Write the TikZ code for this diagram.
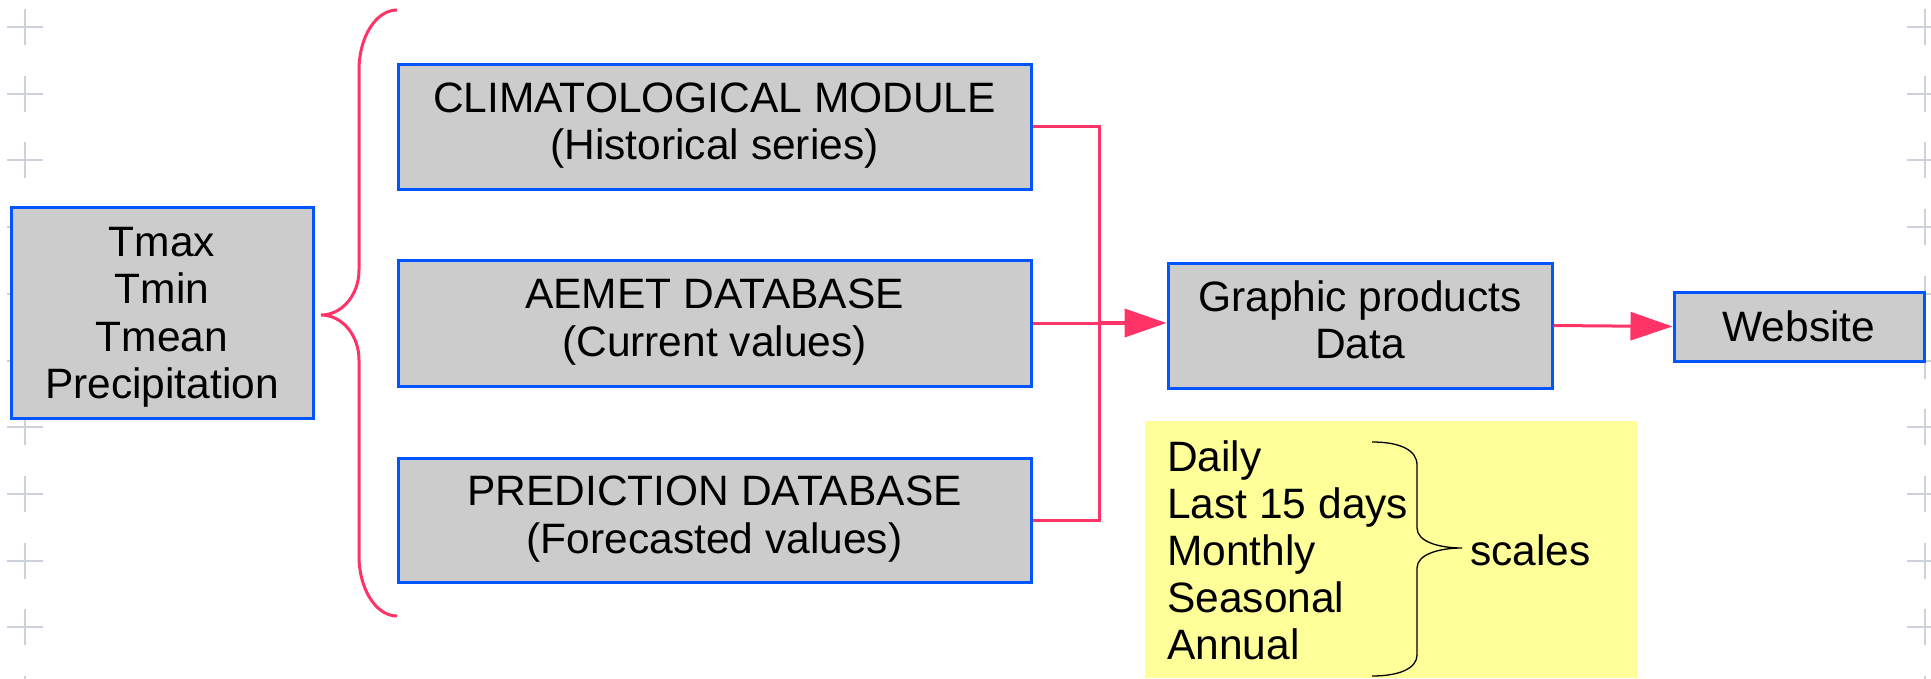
\documentclass[tikz,border=0pt]{standalone}
\usepackage{fontspec}
\setmainfont{Liberation Sans}
\usetikzlibrary{arrows.meta,calc}
\definecolor{boxblue}{RGB}{0,85,255}
\definecolor{boxgrey}{RGB}{204,204,204}
\definecolor{linkred}{RGB}{255,51,102}
\definecolor{notefill}{RGB}{255,255,153}
\definecolor{gridmark}{RGB}{205,209,219}
\tikzset{
  block/.style={draw=boxblue, fill=boxgrey, line width=3pt, inner sep=0pt,
    align=center, font=\fontsize{42.5}{47.5}\selectfont},
  link/.style={draw=linkred, line width=3pt},
  linkarrow/.style={link, -{Triangle[length=42pt,width=28pt]}},
  gridcross/.style={draw=gridmark, line width=2pt},
  notetext/.style={inner sep=0pt, font=\fontsize{42.5}{47.5}\selectfont},
  bracepen/.style={draw=black, line width=1.3pt},
}
\begin{document}
\begin{tikzpicture}[x=1pt,y=-1pt]
\useasboundingbox (0,0) rectangle (1931,678);

% page grid marks along both edges
\foreach \gi in {0,...,10} {
  \draw[gridcross] (7,{27+66.7*\gi}) -- (43,{27+66.7*\gi})
                   (25,{9+66.7*\gi}) -- (25,{45+66.7*\gi});
  \draw[gridcross] (1907,{27+66.7*\gi}) -- (1943,{27+66.7*\gi})
                   (1925,{9+66.7*\gi}) -- (1925,{45+66.7*\gi});
}

% variables
\node[block, minimum width=302pt, minimum height=211pt] (vars) at (162,312.5)
  {\rule{0pt}{39pt}Tmax\\Tmin\\Tmean\\Precipitation};

% data sources
\node[block, minimum width=633pt, minimum height=125pt] (clim) at (714.5,126.5)
  {CLIMATOLOGICAL MODULE\strut\\(Historical series)\strut};
\node[block, minimum width=633pt, minimum height=126pt] (aemet) at (714.5,323)
  {AEMET DATABASE\strut\\(Current values)\strut};
\node[block, minimum width=633pt, minimum height=124pt] (pred) at (714.5,520)
  {PREDICTION DATABASE\strut\\(Forecasted values)\strut};

% outputs
\node[block, minimum width=384pt, minimum height=125pt] (prod) at (1360,325.5)
  {Graphic products\strut\\Data\strut};
\node[block, minimum width=250pt, minimum height=69pt] (web) at (1799,326.5)
  {Website};

% brace from the variables to the three sources
\draw[link] (397,10) .. controls (376,10) and (359,37) .. (359,70)
  -- (359,270) .. controls (359,295) and (342,315) .. (321,315)
  .. controls (342,315) and (359,335) .. (359,360)
  -- (359,556) .. controls (359,589) and (376,616) .. (397,616);

% collector bus into the products box
\coordinate (bus) at (1099,323);
\draw[link] (clim.east) -- (clim.east -| bus) -- (pred.east -| bus) -- (pred.east);
\draw[link] (aemet.east) -- (aemet.east -| bus);
\draw[linkarrow, line width=4pt] (aemet.east -| bus) -- (aemet.east -| prod.west);
\draw[linkarrow] (prod.east) -- (web.west);

% time scales note
\node[fill=notefill, inner sep=0pt, minimum width=492pt, minimum height=257pt]
  (note) at (1391,549.5) {};
\foreach \t [count=\i] in {Daily,Last 15 days,Monthly,Seasonal,Annual}
  \node[notetext, anchor=base west] (scale\i) at (1167,{424+47*\i}) {\t};
\draw[bracepen] (1372,442) .. controls (1400,442) and (1417,450) .. (1417,465)
  -- (1417,528) .. controls (1417,542) and (1440,548) .. (1462,548)
  .. controls (1440,548) and (1417,554) .. (1417,568)
  -- (1417,655) .. controls (1417,668) and (1400,676) .. (1372,676);
\node[notetext, anchor=base west] (scaleslabel) at (1470,565) {scales};
\end{tikzpicture}
\end{document}
